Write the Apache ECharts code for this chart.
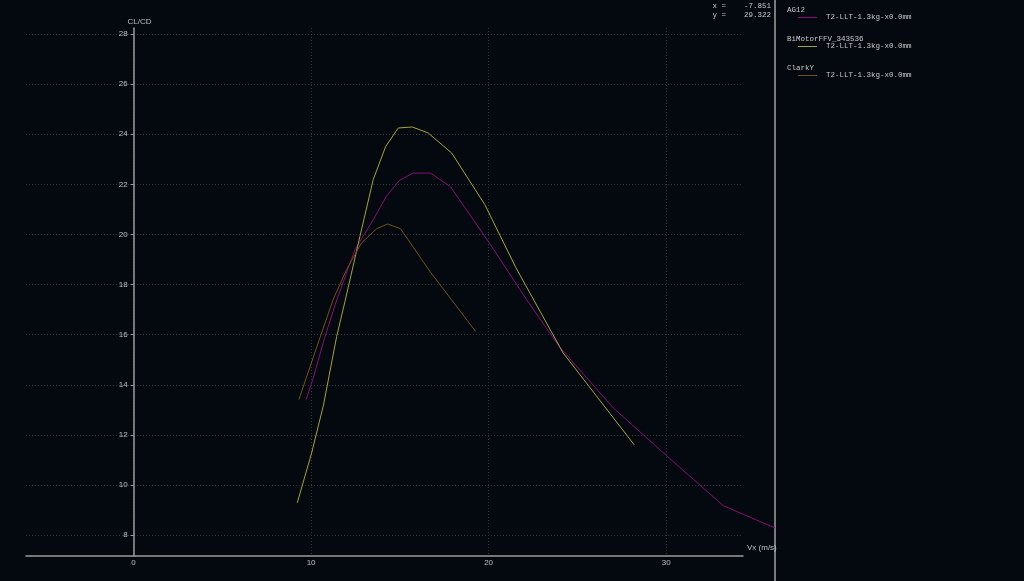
<!DOCTYPE html>
<html><head><meta charset="utf-8">
<script src="https://cdn.jsdelivr.net/npm/echarts@6/dist/echarts.min.js"></script>
<style>html,body{margin:0;padding:0;background:#03090f;}#c{width:1024px;height:581px;}</style>
</head><body><div id="c"></div>
<script>
// ---- data ----
const seriesNames = ['AG12', 'BiMotorFFV_343536', 'ClarkY'];
const legendLabel = 'T2-LLT-1.3kg-x0.0mm';
const seriesColors = ['#8c0c78', '#a4a436', '#725417'];
const ag12 = [[9.72,13.41],[10.12,14.27],[10.75,15.85],[11.4,17.3],[12.47,19.39],[13.5,20.59],[14.22,21.5],[14.96,22.15],[15.75,22.45],[16.73,22.45],[17.86,21.9],[20.1,19.6],[22.14,17.4],[24.02,15.49],[27.02,13.08],[30.03,11.17],[33.22,9.18],[36.13,8.29]];
const bimotor = [[9.22,9.29],[10.03,11.28],[10.7,13.2],[11.44,15.93],[11.9,17.3],[12.75,19.92],[13.5,22.19],[14.2,23.51],[14.91,24.25],[15.7,24.29],[16.6,24.05],[17.92,23.25],[19.79,21.19],[21.54,18.67],[24.2,15.27],[28.2,11.61]];
const clarky = [[9.31,13.41],[10.59,16.07],[11.24,17.4],[12.0,18.6],[12.84,19.66],[13.69,20.23],[14.31,20.42],[15.04,20.23],[16.69,18.53],[19.27,16.13]];
const seriesData = [ag12, bimotor, clarky];
const xRange = [-6.06, 34.33];
const yRange = [7.17, 28.24];
const cursorText = ['x =    -7.851', 'y =    29.322'];
const xName = 'Vx (m/s)';
const yName = 'CL/CD';

const chart = echarts.init(document.getElementById('c'), null, {renderer: 'canvas'});
const labelColor = '#b9c0c6';
const gridColor = '#2c3834';
const monoFont = '"Liberation Mono", "DejaVu Sans Mono", monospace';

// plot geometry
const plotLeft = 26, plotRight = 743, plotTop = 28, plotBottom = 556, panelX = 775;
const pxPerX = (plotRight - plotLeft) / (xRange[1] - xRange[0]);
const zeroOffset = -(0 - xRange[0]) * pxPerX;               // move y axis onto x = 0
const xMaxExtended = xRange[0] + (panelX - plotLeft) / pxPerX; // same scale, wider drawing area

const graphics = [
  {type: 'line', shape: {x1: panelX, y1: 0, x2: panelX, y2: 581}, style: {stroke: '#a0a0a0', lineWidth: 1.5}},
  {type: 'text', right: 1024 - 771, top: 2, style: {text: cursorText[0], fill: '#c8c8c8', font: '7.5px ' + monoFont, textAlign: 'right'}},
  {type: 'text', right: 1024 - 771, top: 11, style: {text: cursorText[1], fill: '#c8c8c8', font: '7.5px ' + monoFont, textAlign: 'right'}}
];
seriesNames.forEach((n, i) => {
  graphics.push({type: 'text', left: 787, top: 6 + i * 29, style: {text: n, fill: '#c8c8c8', font: '7.5px ' + monoFont}});
});

chart.setOption({
  backgroundColor: '#03090f',
  animation: false,
  grid: [
    {left: plotLeft, right: 1024 - plotRight, top: plotTop, bottom: 581 - plotBottom},
    {left: plotLeft, right: 1024 - panelX, top: plotTop, bottom: 581 - plotBottom}
  ],
  legend: {
    data: seriesNames,
    orient: 'vertical',
    left: 798, top: 12,
    padding: 0,
    itemGap: 18,
    itemWidth: 19, itemHeight: 1,
    icon: 'rect',
    selectedMode: false,
    formatter: () => legendLabel,
    textStyle: {color: '#c8c8c8', fontFamily: monoFont, fontSize: 7.5, lineHeight: 11, padding: [0, 0, 0, 4]}
  },
  xAxis: [{
    type: 'value', gridIndex: 0, min: xRange[0], max: xRange[1], splitNumber: 4,
    name: xName, nameLocation: 'end', nameGap: 4,
    nameTextStyle: {color: labelColor, fontSize: 8, fontFamily: 'Liberation Sans', verticalAlign: 'bottom', padding: [0, 0, 4, 0]},
    axisLine: {onZero: false, lineStyle: {color: '#9a9a9a', width: 1.5}},
    axisTick: {show: false},
    axisLabel: {color: labelColor, fontSize: 8, fontFamily: 'Liberation Sans', margin: 3, showMinLabel: false, showMaxLabel: false},
    splitLine: {show: true, showMinLine: false, showMaxLine: false, lineStyle: {color: gridColor, type: [1, 2], width: 1}}
  }, {
    type: 'value', gridIndex: 1, min: xRange[0], max: xMaxExtended, show: false
  }],
  yAxis: [{
    type: 'value', gridIndex: 0, min: yRange[0], max: yRange[1], splitNumber: 10,
    position: 'left', offset: zeroOffset,
    name: yName, nameLocation: 'end', nameGap: 2,
    nameTextStyle: {color: labelColor, fontSize: 8, fontFamily: 'Liberation Sans', align: 'center', padding: [0, 0, 0, 12]},
    axisLine: {show: true, onZero: false, lineStyle: {color: '#9a9a9a', width: 1.5}},
    axisTick: {show: true, length: 3, lineStyle: {color: '#9a9a9a'}},
    axisLabel: {color: labelColor, fontSize: 8, fontFamily: 'Liberation Sans', margin: 6, showMinLabel: false, showMaxLabel: false},
    splitLine: {show: true, showMinLine: false, showMaxLine: false, lineStyle: {color: gridColor, type: [1, 2], width: 1}}
  }, {
    type: 'value', gridIndex: 1, min: yRange[0], max: yRange[1], show: false
  }],
  graphic: graphics,
  series: seriesNames.map((n, i) => ({
    name: n, type: 'line', data: seriesData[i], xAxisIndex: 1, yAxisIndex: 1,
    showSymbol: false, symbol: 'none',
    lineStyle: {color: seriesColors[i], width: 1},
    itemStyle: {color: seriesColors[i]}
  }))
});
</script></body></html>
